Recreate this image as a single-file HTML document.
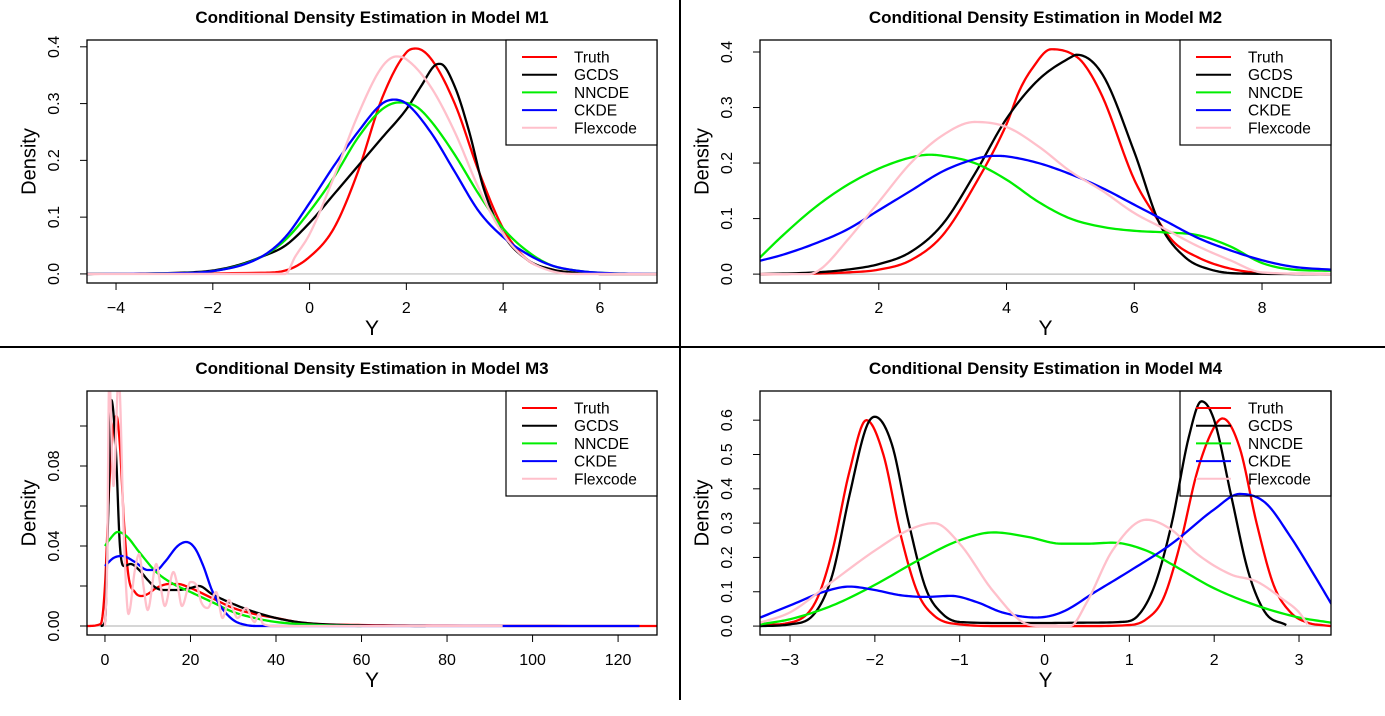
<!DOCTYPE html>
<html><head><meta charset="utf-8">
<style>
html,body{margin:0;padding:0;background:#fff;}
svg{display:block;font-family:"Liberation Sans",Arial,sans-serif;}
</style></head>
<body>
<svg id="chart" width="1385" height="716" viewBox="0 0 1385 716" xmlns="http://www.w3.org/2000/svg">
<rect x="0" y="0" width="1385" height="716" fill="#fff"/>
<line x1="0" y1="347" x2="1385" y2="347" stroke="#000" stroke-width="2"/>
<line x1="680" y1="0" x2="680" y2="700" stroke="#000" stroke-width="2"/>
</svg>
<script>
// ---- Series names & colors ----
const seriesNames = ["Truth","GCDS","NNCDE","CKDE","Flexcode"];
// ---- Panel M1 data ----
const m1TruthX = [-4.6,-1,-0.5,0,0.5,1,1.5,2,2.2,2.5,3,3.5,4,4.5,5,5.5,6,7.2];
const m1TruthY = [0,0.002,0.006,0.03,0.08,0.18,0.31,0.39,0.397,0.38,0.3,0.18,0.08,0.025,0.008,0.002,0,0];
const m1GcdsX = [-4.6,-2.7,-2,-1.5,-1,-0.5,0,0.5,1,1.5,2,2.3,2.6,2.7,3,3.3,3.6,4,4.5,5,5.5,6,7.2];
const m1GcdsY = [0,0.002,0.006,0.015,0.03,0.05,0.09,0.14,0.19,0.24,0.29,0.33,0.368,0.37,0.33,0.25,0.15,0.07,0.025,0.008,0.002,0,0];
const m1NncdeX = [-4.6,-3,-2,-1,-0.5,0,0.5,1,1.5,1.85,2.2,2.5,3,3.5,4,4.5,5,5.5,6,7.2];
const m1NncdeY = [0,0.001,0.005,0.03,0.06,0.11,0.17,0.24,0.29,0.302,0.295,0.27,0.21,0.14,0.08,0.04,0.015,0.006,0.002,0];
const m1CkdeX = [-4.6,-3,-2,-1,-0.5,0,0.5,1,1.5,1.75,2,2.5,3,3.5,4,4.5,5,5.5,6,7.2];
const m1CkdeY = [0,0.001,0.005,0.03,0.065,0.125,0.19,0.25,0.3,0.307,0.3,0.25,0.18,0.11,0.065,0.035,0.015,0.006,0.002,0];
const m1FlexX = [-4.6,-0.5,-0.3,0,0.5,1,1.5,1.8,2,2.5,3,3.5,4,4.5,5,5.5,7.2];
const m1FlexY = [0,0,0.03,0.07,0.17,0.28,0.365,0.383,0.378,0.33,0.25,0.15,0.07,0.025,0.005,0,0];
const m1XTicks = [-4,-2,0,2,4,6];
const m1YTicks = [0,0.1,0.2,0.3,0.4];
const m1YLabels = ["0.0","0.1","0.2","0.3","0.4"];
// ---- Panel M2 data ----
const m2TruthX = [0.14,1,1.5,2,2.5,3,3.5,4,4.2,4.4,4.7,5,5.2,5.5,6,6.3,6.6,7,7.5,8,9.08];
const m2TruthY = [0,0.001,0.003,0.008,0.025,0.07,0.16,0.27,0.33,0.37,0.405,0.398,0.38,0.32,0.17,0.11,0.06,0.03,0.01,0.002,0];
const m2GcdsX = [0.14,1,1.5,2,2.5,3,3.5,4,4.5,5,5.1,5.5,6,6.4,6.8,7.2,7.7,9.08];
const m2GcdsY = [0,0.003,0.008,0.018,0.04,0.09,0.18,0.28,0.35,0.39,0.395,0.36,0.22,0.09,0.03,0.008,0.001,0];
const m2NncdeX = [0.14,0.5,1,1.5,2,2.5,2.8,3,3.5,4,4.5,5,5.5,6,6.5,7,7.5,8,8.5,9.08];
const m2NncdeY = [0.03,0.07,0.12,0.16,0.19,0.21,0.215,0.213,0.2,0.17,0.13,0.1,0.085,0.078,0.075,0.07,0.05,0.02,0.008,0.006];
const m2CkdeX = [0.14,0.5,1,1.5,2,2.5,3,3.5,3.8,4,4.5,5,5.5,6,6.5,7,7.5,8,8.5,9.08];
const m2CkdeY = [0.024,0.035,0.055,0.08,0.115,0.15,0.185,0.207,0.213,0.212,0.2,0.18,0.155,0.125,0.095,0.065,0.043,0.025,0.013,0.008];
const m2FlexX = [0.14,0.9,1.1,1.5,2,2.5,3,3.5,4,4.5,5,5.5,6,6.5,7,7.5,8,9.08];
const m2FlexY = [0,0,0.01,0.06,0.13,0.2,0.25,0.274,0.265,0.23,0.185,0.15,0.11,0.08,0.05,0.025,0.003,0];
const m2XTicks = [2,4,6,8];
const m2YTicks = [0,0.1,0.2,0.3,0.4];
const m2YLabels = ["0.0","0.1","0.2","0.3","0.4"];
// ---- Panel M3 data ----
const m3TruthX = [-4.2,-1,0,1,2,2.7,3.5,4.5,5.5,7,8.5,10,12,15,17,20,25,30,35,40,45,50,60,80,129];
const m3TruthY = [0,0.001,0.02,0.07,0.1,0.105,0.09,0.05,0.025,0.017,0.015,0.016,0.019,0.021,0.021,0.019,0.014,0.009,0.006,0.004,0.002,0.001,0.0005,0.0001,0];
const m3GcdsX = [-1,0,0.8,1.5,2.5,3.5,4.5,6,8,10,12,14,17,20,22,25,30,35,40,45,50,60,75];
const m3GcdsY = [0,0.002,0.06,0.113,0.09,0.04,0.03,0.031,0.028,0.023,0.019,0.018,0.018,0.019,0.02,0.016,0.011,0.007,0.004,0.002,0.001,0.0003,0];
const m3NncdeX = [0,1,3,5,8,12,16,20,25,30,35,40,50,60];
const m3NncdeY = [0.04,0.043,0.047,0.045,0.037,0.027,0.021,0.017,0.012,0.007,0.004,0.002,0.0005,0];
const m3CkdeX = [0,2,4,7,10,12,14,17,19,21,23,25,27,30,33,36,93,125];
const m3CkdeY = [0.03,0.034,0.035,0.032,0.028,0.028,0.032,0.04,0.042,0.039,0.03,0.018,0.01,0.003,0.0005,0,0,0];
const m3FlexX = [0,0.5,1,2,3.2,4.5,5.5,7,8,9,10,12,13,14,16,17,18,20,21.5,22.5,24,26,27.5,29,30,31,33,35,36,37,40,93];
const m3FlexY = [0,0.03,0.125,0.07,0.125,0.04,0.006,0.028,0.036,0.02,0.008,0.031,0.02,0.01,0.027,0.02,0.01,0.022,0.02,0.012,0.009,0.017,0.004,0.013,0.008,0.004,0.009,0.002,0.006,0.001,0,0];
const m3XTicks = [0,20,40,60,80,100,120];
const m3YTicks = [0,0.02,0.04,0.06,0.08,0.10];
const m3YLabels = ["0.00","","0.04","","0.08",""];
// ---- Panel M4 data ----
const m4TruthX = [-3.35,-3,-2.7,-2.5,-2.3,-2.1,-1.9,-1.7,-1.5,-1.3,-1,-0.5,0.5,1,1.2,1.4,1.6,1.8,2,2.1,2.3,2.5,2.7,2.9,3.1,3.3,3.38];
const m4TruthY = [0.003,0.01,0.07,0.22,0.45,0.6,0.5,0.27,0.1,0.03,0.005,0,0,0.003,0.02,0.08,0.24,0.45,0.58,0.605,0.52,0.3,0.12,0.04,0.01,0.002,0];
const m4GcdsX = [-3.35,-3,-2.7,-2.5,-2.3,-2.1,-2,-1.8,-1.6,-1.4,-1.2,-1,-0.5,0,0.5,0.9,1.1,1.3,1.5,1.7,1.85,2,2.2,2.4,2.6,2.85];
const m4GcdsY = [0,0.005,0.04,0.15,0.38,0.58,0.61,0.53,0.3,0.11,0.035,0.012,0.009,0.009,0.01,0.012,0.03,0.12,0.3,0.55,0.655,0.6,0.38,0.16,0.04,0.003];
const m4NncdeX = [-3.35,-3,-2.5,-2,-1.5,-1,-0.6,-0.2,0.2,0.5,0.8,1.2,1.5,2,2.5,3,3.38];
const m4NncdeY = [0.005,0.02,0.06,0.12,0.19,0.25,0.273,0.26,0.24,0.24,0.243,0.22,0.18,0.11,0.06,0.025,0.01];
const m4CkdeX = [-3.35,-3,-2.6,-2.3,-2,-1.7,-1.4,-1.1,-0.8,-0.5,-0.1,0.2,0.6,1,1.5,2,2.3,2.6,2.9,3.2,3.38];
const m4CkdeY = [0.025,0.06,0.1,0.115,0.105,0.09,0.085,0.088,0.07,0.04,0.025,0.04,0.1,0.16,0.24,0.34,0.385,0.36,0.26,0.14,0.065];
const m4FlexX = [-3.35,-3,-2.5,-2,-1.6,-1.3,-1,-0.6,-0.2,0,0.3,0.5,0.8,1.2,1.5,1.8,2.2,2.5,2.8,3,3.1];
const m4FlexY = [0.01,0.04,0.13,0.22,0.28,0.3,0.24,0.1,0.005,0,0,0.07,0.22,0.31,0.28,0.21,0.15,0.13,0.08,0.04,0.005];
const m4XTicks = [-3,-2,-1,0,1,2,3];
const m4YTicks = [0,0.1,0.2,0.3,0.4,0.5,0.6];
const m4YLabels = ["0.0","0.1","0.2","0.3","0.4","0.5","0.6"];

const colors = ["#ff0000","#000000","#00ee00","#0000ff","#ffc0cb"];
const NS = "http://www.w3.org/2000/svg";
const svg = document.getElementById("chart");

function mk(tag, attrs, parent){
  const e = document.createElementNS(NS, tag);
  for (const k in attrs) e.setAttribute(k, attrs[k]);
  (parent||svg).appendChild(e);
  return e;
}
// Monotone cubic (Fritsch-Carlson) interpolation in data space, sampled densely
function monoPath(xs, ys, sx, sy){
  const n = xs.length;
  const d = [], m = new Array(n);
  for (let i = 0; i < n-1; i++) d.push((ys[i+1]-ys[i])/(xs[i+1]-xs[i]));
  m[0] = d[0]; m[n-1] = d[n-2];
  for (let i = 1; i < n-1; i++) m[i] = (d[i-1]*d[i] <= 0) ? 0 : (d[i-1]+d[i])/2;
  for (let i = 0; i < n-1; i++){
    if (d[i] === 0){ m[i]=0; m[i+1]=0; continue; }
    const a = m[i]/d[i], b = m[i+1]/d[i], s = a*a+b*b;
    if (s > 9){ const t = 3/Math.sqrt(s); m[i]=t*a*d[i]; m[i+1]=t*b*d[i]; }
  }
  let path = "M" + sx(xs[0]).toFixed(2) + "," + sy(ys[0]).toFixed(2);
  for (let i = 0; i < n-1; i++){
    const h = xs[i+1]-xs[i];
    const steps = 12;
    for (let k = 1; k <= steps; k++){
      const t = k/steps, t2=t*t, t3=t2*t;
      const y = (2*t3-3*t2+1)*ys[i] + (t3-2*t2+t)*h*m[i] + (-2*t3+3*t2)*ys[i+1] + (t3-t2)*h*m[i+1];
      path += " L" + sx(xs[i]+t*h).toFixed(2) + "," + sy(y).toFixed(2);
    }
  }
  return path;
}

function drawPanel(p){
  const g = mk("g", {});
  
  
  const sx = v => p.L + (v - p.xmin) / (p.xmax - p.xmin) * (p.R - p.L);
  const sy = v => p.B - (v - p.ymin) / (p.ymax - p.ymin) * (p.B - p.T);
  const t = mk("text", {x:(p.L+p.R)/2, y:p.T-17, "text-anchor":"middle", "font-size":"17", "font-weight":"bold"}, g);
  t.textContent = p.title;
  
  
  const cp = mk("clipPath", {id:"clip-"+p.id}, g);
  mk("rect", {x:p.L, y:p.T, width:p.R-p.L, height:p.B-p.T}, cp);
  const z = mk("line", {x1:p.L, x2:p.R, y1:sy(0), y2:sy(0), stroke:"#bebebe", "stroke-width":"1.2"}, g);
  
  
  p.series.forEach((s, i) => {
    const path = mk("path", {d:monoPath(s[0], s[1], sx, sy), fill:"none", stroke:colors[i], "stroke-width":"2.3", "clip-path":"url(#clip-"+p.id+")", "stroke-linejoin":"round"}, g);
    
    
  });
  const box = mk("rect", {x:p.L, y:p.T, width:p.R-p.L, height:p.B-p.T, fill:"none", stroke:"#000", "stroke-width":"1.3"}, g);
  
  
  p.xt.forEach(v => {
    const x = sx(v);
    mk("line", {x1:x, x2:x, y1:p.B, y2:p.B+7, stroke:"#000", "stroke-width":"1"}, g);
    const tl = mk("text", {x:x, y:p.B+30, "text-anchor":"middle", "font-size":"16"}, g);
    tl.textContent = v < 0 ? "\u2212" + Math.abs(v) : String(v);
    
    
  });
  p.yt.forEach((v, k) => {
    const y = sy(v);
    mk("line", {x1:p.L-7, x2:p.L, y1:y, y2:y, stroke:"#000", "stroke-width":"1"}, g);
    if (p.yl[k]) {
      const lx = p.L-32;
      const tl = mk("text", {x:lx, y:y, "text-anchor":"middle", "font-size":"16", transform:"rotate(-90 "+lx+" "+y+")", "dominant-baseline":"middle"}, g);
      tl.textContent = p.yl[k];
      
      
    }
  });
  const xt = mk("text", {x:(p.L+p.R)/2, y:p.B+52, "text-anchor":"middle", "font-size":"21"}, g);
  xt.textContent = "Y";
  
  
  const yc = (p.T+p.B)/2, yx = p.L-57;
  const yt = mk("text", {x:yx, y:yc, "text-anchor":"middle", "font-size":"20", transform:"rotate(-90 "+yx+" "+yc+")", "dominant-baseline":"middle"}, g);
  yt.textContent = "Density";
  
  
  const lg = mk("g", {}, g);
  
  
  mk("rect", {x:p.R-151, y:p.T, width:151, height:105, fill:p.legendFill, stroke:"#000", "stroke-width":"1.2"}, lg);
  seriesNames.forEach((n, i) => {
    const y = p.T + 17 + i*17.7;
    const ln = mk("line", {x1:p.R-135, x2:p.R-100, y1:y, y2:y, stroke:colors[i], "stroke-width":"2"}, lg);
    
    
    const tx = mk("text", {x:p.R-83, y:y+5.5, "font-size":"15.5"}, lg);
    tx.textContent = n;
    
    
  });
}

drawPanel({id:"m1", title:"Conditional Density Estimation in Model M1", L:87, R:657, T:40, B:283,
  xmin:-4.6, xmax:7.18, ymin:-0.016, ymax:0.412, xt:m1XTicks, yt:m1YTicks, yl:m1YLabels, legendFill:"#fff",
  series:[[m1TruthX,m1TruthY],[m1GcdsX,m1GcdsY],[m1NncdeX,m1NncdeY],[m1CkdeX,m1CkdeY],[m1FlexX,m1FlexY]]});
drawPanel({id:"m2", title:"Conditional Density Estimation in Model M2", L:760, R:1331, T:40, B:283,
  xmin:0.14, xmax:9.08, ymin:-0.016, ymax:0.4216, xt:m2XTicks, yt:m2YTicks, yl:m2YLabels, legendFill:"#fff",
  series:[[m2TruthX,m2TruthY],[m2GcdsX,m2GcdsY],[m2NncdeX,m2NncdeY],[m2CkdeX,m2CkdeY],[m2FlexX,m2FlexY]]});
drawPanel({id:"m3", title:"Conditional Density Estimation in Model M3", L:87, R:657, T:391, B:635,
  xmin:-4.2, xmax:129.1, ymin:-0.0045, ymax:0.1175, xt:m3XTicks, yt:m3YTicks, yl:m3YLabels, legendFill:"#fff",
  series:[[m3TruthX,m3TruthY],[m3GcdsX,m3GcdsY],[m3NncdeX,m3NncdeY],[m3CkdeX,m3CkdeY],[m3FlexX,m3FlexY]]});
drawPanel({id:"m4", title:"Conditional Density Estimation in Model M4", L:760, R:1331, T:391, B:635,
  xmin:-3.354, xmax:3.377, ymin:-0.026, ymax:0.685, xt:m4XTicks, yt:m4YTicks, yl:m4YLabels, legendFill:"none",
  series:[[m4TruthX,m4TruthY],[m4GcdsX,m4GcdsY],[m4NncdeX,m4NncdeY],[m4CkdeX,m4CkdeY],[m4FlexX,m4FlexY]]});
</script>
</body></html>
